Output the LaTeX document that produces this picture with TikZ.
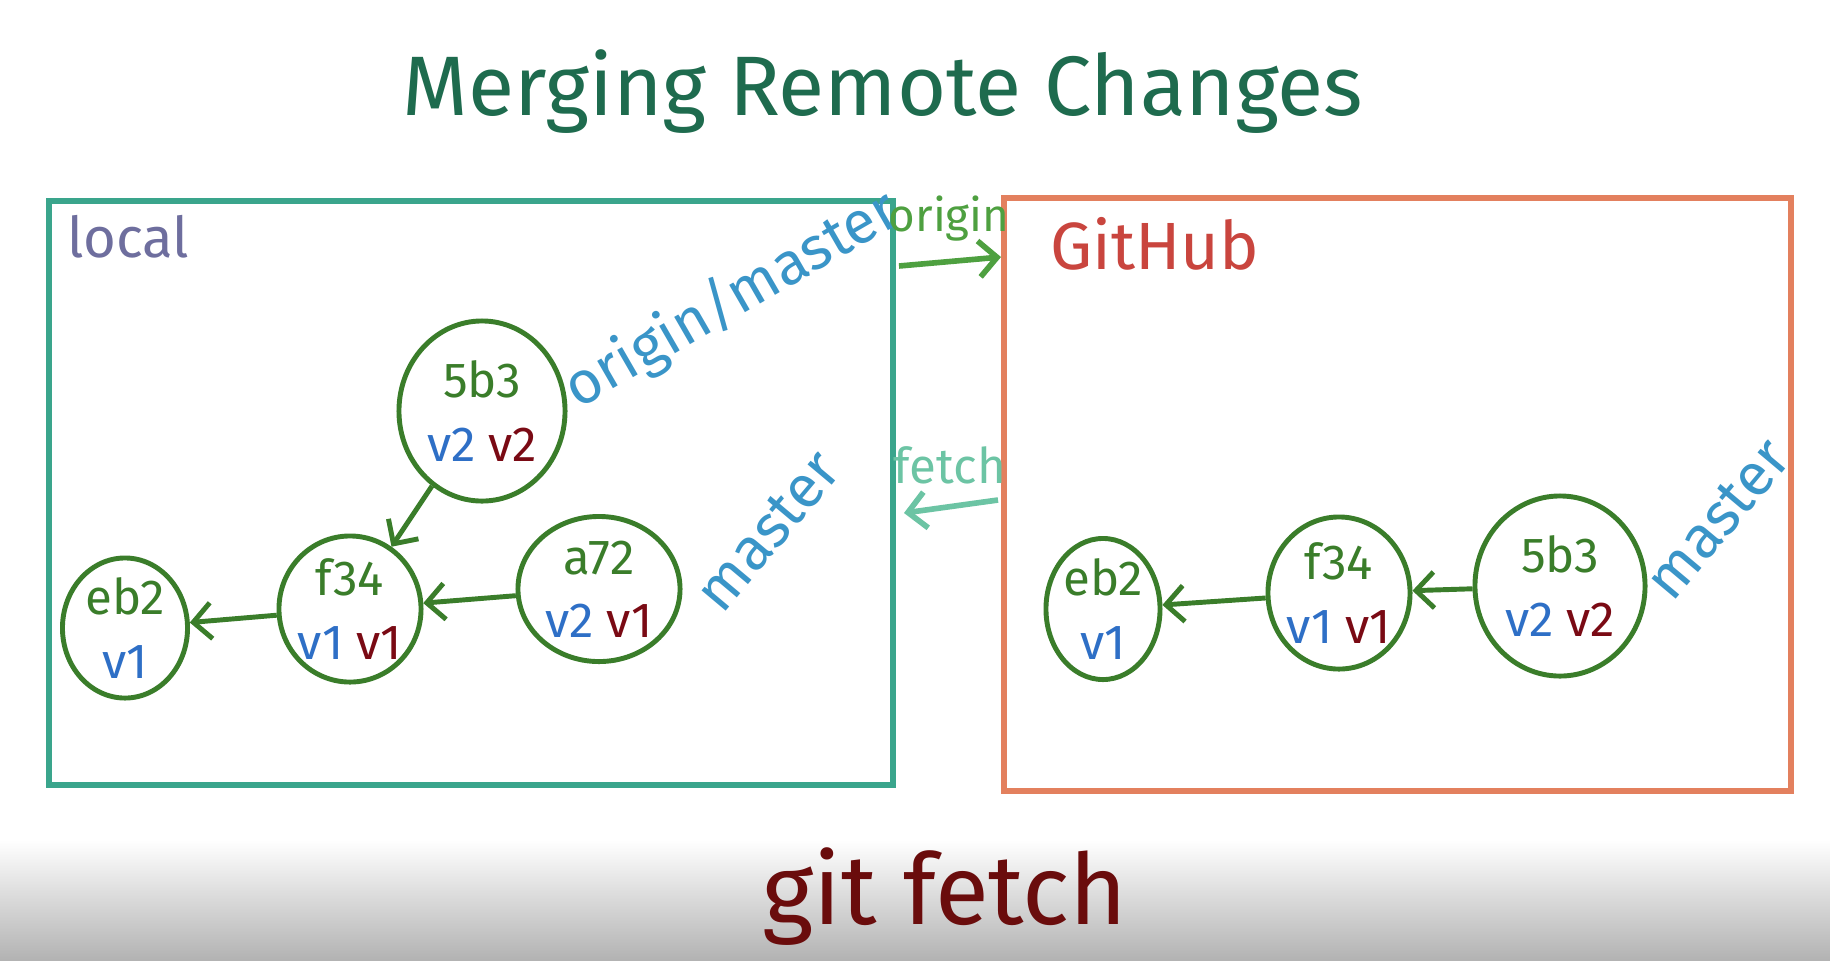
\documentclass[tikz,border=0pt]{standalone}
\usepackage{fontspec}
\setmainfont{Fira Sans}
\usepackage{xcolor}
\usetikzlibrary{arrows.meta}
\usetikzlibrary{shapes.geometric}

\definecolor{titlegreen}{HTML}{1E6B4E}
\definecolor{localteal}{HTML}{3AA58C}
\definecolor{huborange}{HTML}{E3805E}
\definecolor{localgray}{HTML}{6E6E9E}
\definecolor{hubred}{HTML}{C9453E}
\definecolor{commitgreen}{HTML}{3A7D2A}
\definecolor{verblue}{HTML}{2E6FC6}
\definecolor{verred}{HTML}{7A0A14}
\definecolor{branchblue}{HTML}{3A95C8}
\definecolor{origingreen}{HTML}{4EA040}
\definecolor{fetchgreen}{HTML}{6CC4A4}
\definecolor{cmdred}{HTML}{6A0C0C}

\newcommand{\vbl}[1]{\textcolor{verblue}{#1}}
\newcommand{\vrd}[1]{\textcolor{verred}{#1}}

\begin{document}
\begin{tikzpicture}[x=0.01cm,y=-0.01cm,
  >={Straight Barb[length=1.8mm,width=3.6mm]},
  commit/.style={ellipse,draw=commitgreen,line width=1.4pt,inner sep=0pt},
  hash/.style={text=commitgreen,align=center,font=\fontsize{14}{18}\selectfont},
  parent/.style={->,draw=commitgreen,line width=1.4pt},
  branch/.style={text=branchblue,font=\fontsize{17}{20}\selectfont}]
\useasboundingbox (0,0) rectangle (1830,960);
\fill[white] (0,0) rectangle (1830,960);
\shade[top color=white,bottom color=black!30] (0,840) rectangle (1830,960);

\node[text=titlegreen,font=\fontsize{24}{28}\selectfont] (title) at (883,92) {Merging Remote Changes};

% the two repositories
\draw[localteal,line width=1.5pt] (49,201) rectangle (893,785);
\draw[huborange,line width=1.5pt] (1004,198) rectangle (1791,791);
\node[text=localgray,font=\fontsize{16}{18}\selectfont,anchor=north west] (local) at (55,203) {local};
\node[text=hubred,font=\fontsize{19}{22}\selectfont,anchor=north west] (github) at (1038,205) {GitHub};

% local commits
\node[commit,minimum width=1.66cm,minimum height=1.80cm,label={[hash]center:5b3\\\vbl{v2} \vrd{v2}}] (L5b3) at (482,411) {};
\node[commit,minimum width=1.42cm,minimum height=1.46cm,label={[hash]center:f34\\\vbl{v1} \vrd{v1}}] (Lf34) at (350,609) {};
\node[commit,minimum width=1.25cm,minimum height=1.40cm,label={[hash]center:eb2\\\vbl{v1}}] (Leb2) at (125,628) {};
\node[commit,minimum width=1.62cm,minimum height=1.45cm,label={[hash]center:a72\\\vbl{v2} \vrd{v1}}] (La72) at (599,589) {};
\draw[parent] (L5b3) -- (Lf34);
\draw[parent] (La72) -- (Lf34);
\draw[parent] (Lf34) -- (Leb2);
\node[branch,rotate=30] (Lorigin) at (732,300) {origin/master};
\node[branch,rotate=50] (Lmaster) at (768,531) {master};

% GitHub commits
\node[commit,minimum width=1.14cm,minimum height=1.41cm,label={[hash]center:eb2\\\vbl{v1}}] (Geb2) at (1103,609) {};
\node[commit,minimum width=1.42cm,minimum height=1.52cm,label={[hash]center:f34\\\vbl{v1} \vrd{v1}}] (Gf34) at (1339,593) {};
\node[commit,minimum width=1.70cm,minimum height=1.80cm,label={[hash]center:5b3\\\vbl{v2} \vrd{v2}}] (G5b3) at (1560,586) {};
\draw[parent] (G5b3) -- (Gf34);
\draw[parent] (Gf34) -- (Geb2);
\node[branch,rotate=50] (Gmaster) at (1718,519) {master};

% remote link
\node[text=origingreen,font=\fontsize{13}{15}\selectfont] (origin) at (949,219) {origin};
\coordinate (origstart) at (899,266);
\coordinate (origend) at (1001,257);
\draw[->,origingreen,line width=1.6pt] (origstart) -- (origend);
\node[text=fetchgreen,font=\fontsize{14}{16}\selectfont] (fetch) at (950,465) {fetch};
\coordinate (fetchstart) at (998,500);
\coordinate (fetchend) at (904,513);
\draw[->,fetchgreen,line width=1.6pt] (fetchstart) -- (fetchend);

\node[text=cmdred,font=\fontsize{28}{32}\selectfont] (cmd) at (945,897) {git fetch};
\end{tikzpicture}
\end{document}
